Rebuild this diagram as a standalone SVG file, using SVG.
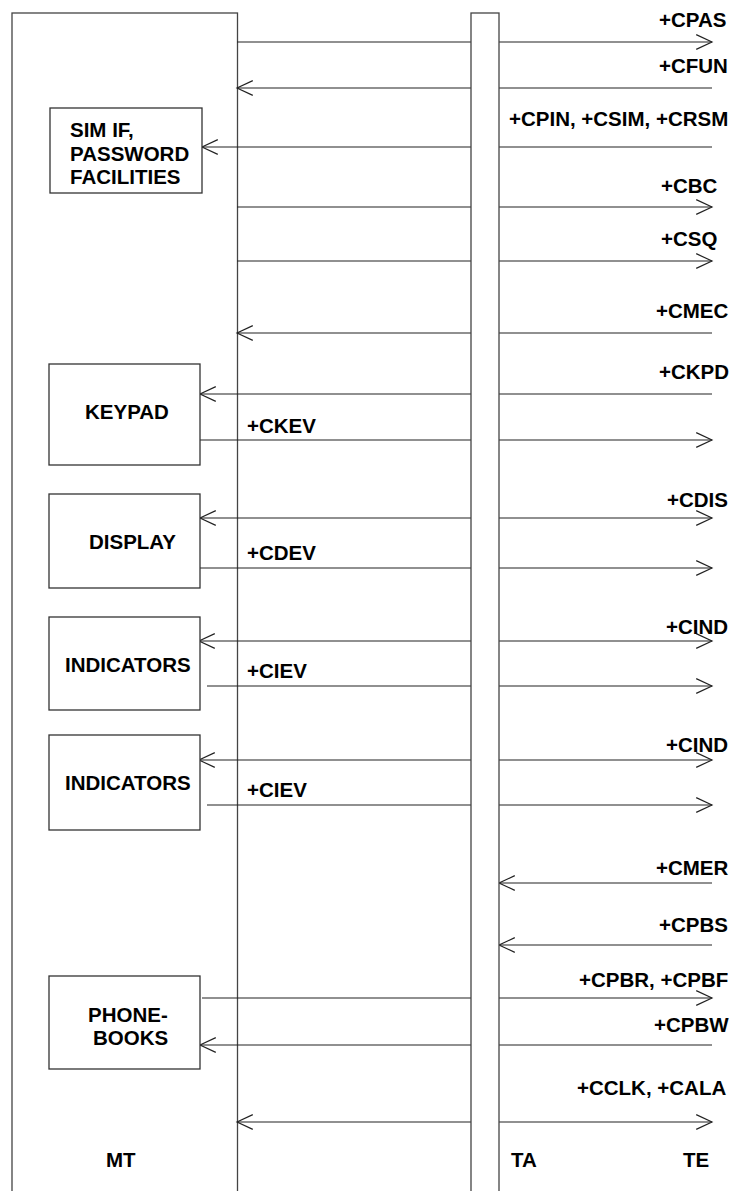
<svg xmlns="http://www.w3.org/2000/svg" width="738" height="1191" viewBox="0 0 738 1191">
<style>
.frame{fill:#fff;stroke:#444;stroke-width:1.3}
.box{fill:#fff;stroke:#333;stroke-width:1.3}
.ln{stroke:#222;stroke-width:1.1;fill:none}
text{font-family:"Liberation Sans",Arial,sans-serif;font-weight:bold;font-size:20.5px;fill:#000}
</style>
<defs>
<marker id="ah" markerUnits="userSpaceOnUse" markerWidth="20" markerHeight="20" viewBox="-17 -9 19 18" refX="0" refY="0" orient="auto-start-reverse">
<path d="M-15,-7 L0,0 L-15,7" fill="none" stroke="#222" stroke-width="1.1"/>
</marker>
</defs>
<rect width="738" height="1191" fill="#fff"/>
<g id="MT"><rect class="frame" x="12" y="13" width="225.5" height="1200"/><text x="106" y="1167">MT</text></g>
<g id="connectors">
<line class="ln" x1="237" y1="42" x2="712" y2="42" marker-end="url(#ah)"/>
<line class="ln" x1="712" y1="88" x2="237" y2="88" marker-end="url(#ah)"/>
<line class="ln" x1="712" y1="147" x2="202" y2="147" marker-end="url(#ah)"/>
<line class="ln" x1="237" y1="207" x2="712" y2="207" marker-end="url(#ah)"/>
<line class="ln" x1="237" y1="261" x2="712" y2="261" marker-end="url(#ah)"/>
<line class="ln" x1="712" y1="333" x2="237" y2="333" marker-end="url(#ah)"/>
<line class="ln" x1="712" y1="394" x2="200" y2="394" marker-end="url(#ah)"/>
<line class="ln" x1="200" y1="440" x2="712" y2="440" marker-end="url(#ah)"/>
<line class="ln" x1="200" y1="518" x2="712" y2="518" marker-start="url(#ah)" marker-end="url(#ah)"/>
<line class="ln" x1="200" y1="568" x2="712" y2="568" marker-end="url(#ah)"/>
<line class="ln" x1="199" y1="641" x2="712" y2="641" marker-start="url(#ah)" marker-end="url(#ah)"/>
<line class="ln" x1="207" y1="686" x2="712" y2="686" marker-end="url(#ah)"/>
<line class="ln" x1="199" y1="760" x2="712" y2="760" marker-start="url(#ah)" marker-end="url(#ah)"/>
<line class="ln" x1="207" y1="805" x2="712" y2="805" marker-end="url(#ah)"/>
<line class="ln" x1="712" y1="883" x2="499" y2="883" marker-end="url(#ah)"/>
<line class="ln" x1="712" y1="945" x2="499" y2="945" marker-end="url(#ah)"/>
<line class="ln" x1="202" y1="998" x2="712" y2="998" marker-end="url(#ah)"/>
<line class="ln" x1="712" y1="1045" x2="200" y2="1045" marker-end="url(#ah)"/>
<line class="ln" x1="237" y1="1122" x2="712" y2="1122" marker-start="url(#ah)" marker-end="url(#ah)"/>
</g>
<g id="TA"><rect class="frame" x="471" y="13" width="28" height="1200"/><text x="511" y="1167">TA</text></g>
<g id="TE"><text x="683" y="1167">TE</text></g>
<g id="labels">
<text x="659" y="27">+CPAS</text>
<text x="659" y="73">+CFUN</text>
<text x="509" y="126">+CPIN, +CSIM, +CRSM</text>
<text x="661" y="193">+CBC</text>
<text x="661" y="246">+CSQ</text>
<text x="656" y="318">+CMEC</text>
<text x="659" y="379">+CKPD</text>
<text x="247" y="433">+CKEV</text>
<text x="667" y="507">+CDIS</text>
<text x="247" y="560">+CDEV</text>
<text x="666" y="634">+CIND</text>
<text x="247" y="678">+CIEV</text>
<text x="666" y="752">+CIND</text>
<text x="247" y="797">+CIEV</text>
<text x="656" y="875">+CMER</text>
<text x="659" y="932">+CPBS</text>
<text x="579" y="987">+CPBR, +CPBF</text>
<text x="654" y="1032">+CPBW</text>
<text x="577" y="1095">+CCLK, +CALA</text>
</g>
<g id="SIM"><rect class="box" x="50" y="108" width="152" height="85"/><text x="70" y="137">SIM IF,</text><text x="70" y="161">PASSWORD</text><text x="70" y="184">FACILITIES</text></g>
<g id="KEYPAD"><rect class="box" x="49" y="364" width="151" height="101"/><text x="85" y="419">KEYPAD</text></g>
<g id="DISPLAY"><rect class="box" x="49" y="494" width="151" height="94"/><text x="89" y="549">DISPLAY</text></g>
<g id="INDICATORS1"><rect class="box" x="49" y="617" width="151" height="93"/><text x="65" y="672">INDICATORS</text></g>
<g id="INDICATORS2"><rect class="box" x="49" y="735" width="151" height="95"/><text x="65" y="790">INDICATORS</text></g>
<g id="PHONEBOOKS"><rect class="box" x="49" y="976" width="151" height="93"/><text x="88" y="1022">PHONE-</text><text x="93" y="1045">BOOKS</text></g>
</svg>
